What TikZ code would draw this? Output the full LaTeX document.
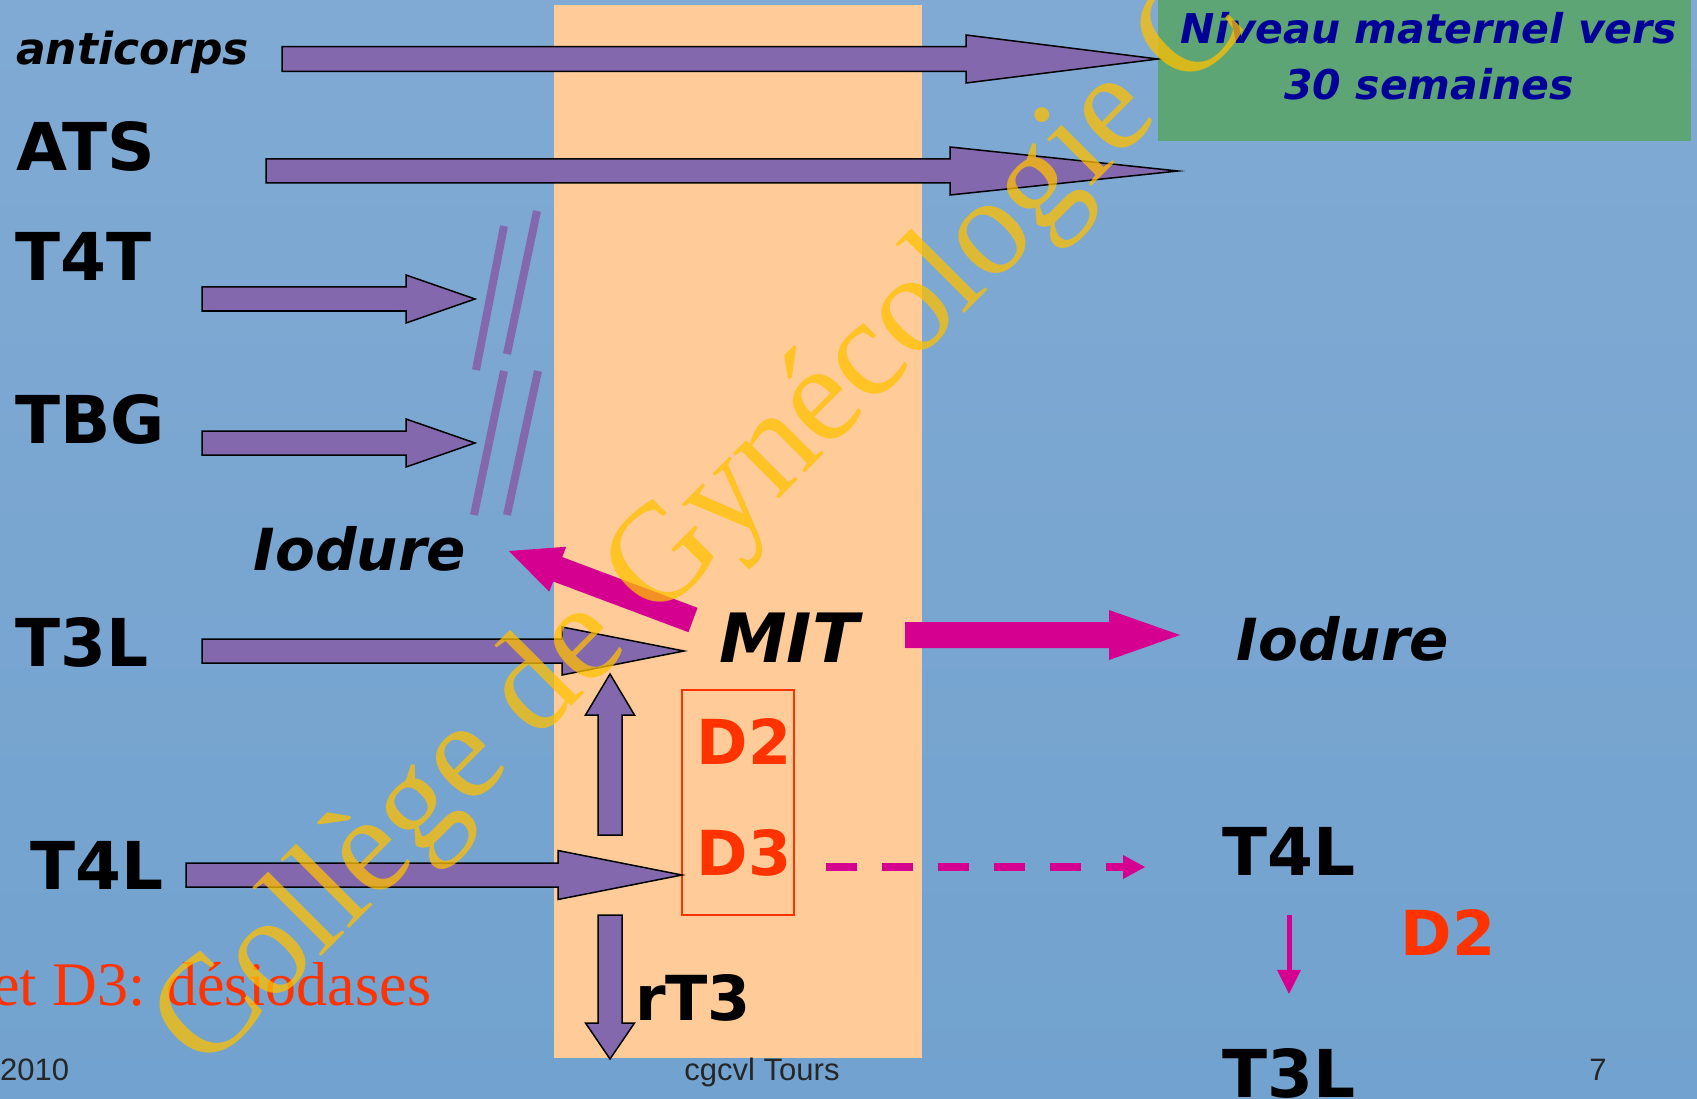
\documentclass[tikz,border=0pt]{standalone}
\usepackage{fontspec}
\usepackage{tikz}
\usetikzlibrary{
  arrows.meta,
  calc
}
\newfontfamily\comic{DejaVu Sans}[
  BoldFont={DejaVu Sans Bold},
  ItalicFont={DejaVu Sans Oblique},
  BoldItalicFont={DejaVu Sans Bold Oblique}]
\newfontfamily\serifwm{Liberation Serif}
\newfontfamily\footsans{Liberation Sans}
\definecolor{bgtop}   {HTML}{80AAD3}
\definecolor{bgmid}   {HTML}{9DC0DF}
\definecolor{bgbot}   {HTML}{72A2CF}
\definecolor{peach}   {HTML}{FFCC99}
\definecolor{grn}     {HTML}{5EA576}
\definecolor{purp}    {HTML}{8468AE}
\definecolor{mag}     {HTML}{D5008F}
\definecolor{navy}    {HTML}{000099}
\definecolor{redo}    {HTML}{FF3300}
\definecolor{wmyel}   {HTML}{FFC000}
\definecolor{footgray}{HTML}{262626}

% block arrow: [style] from, to, shaft half width, head half width, head length
\newcommand{\fatarrow}[6][]{%
  \coordinate (neck) at ($(#3)!#6!(#2)$);
  \filldraw[#1] ($(#2)!#4!90:(#3)$) -- ($(neck)!#4!-90:(#2)$)
    -- ($(neck)!#5!-90:(#2)$) -- (#3) -- ($(neck)!#5!90:(#2)$)
    -- ($(neck)!#4!90:(#2)$) -- ($(#2)!#4!-90:(#3)$) -- cycle;}

\begin{document}
\begin{tikzpicture}[x=1pt, y=1pt,
  every node/.style={inner sep=0pt},
  lbl/.style={font=\comic\bfseries\fontsize{66}{66}\selectfont, anchor=base west},
  lblc/.style={lbl, anchor=base},
  itl/.style={font=\comic\bfseries\itshape\fontsize{58}{58}\selectfont, anchor=base},
  enz/.style={font=\comic\bfseries\fontsize{62}{62}\selectfont, text=redo, anchor=base},
  niv/.style={font=\comic\bfseries\itshape\fontsize{41}{41}\selectfont, text=navy, anchor=base},
  foot/.style={font=\footsans\fontsize{31}{31}\selectfont, text=footgray, anchor=base},
  pbox/.style={fill=purp, draw=black, line width=1.5pt},
  mbox/.style={fill=mag, draw=none},
  bar/.style={draw=purp, line width=8pt},
  marr/.style={draw=mag, line width=5pt, -{Triangle[width=24pt, length=24pt, line width=0pt]}},
  dsh/.style={draw=mag, line width=8pt, dash pattern=on 31pt off 25pt,
              -{Triangle[width=24pt, length=22pt, line width=0pt]}},
]
\useasboundingbox (0,0) rectangle (1697,-1099);
\shade[top color=bgtop, middle color=bgmid, bottom color=bgbot] (0,0) rectangle (1697,-1099);
\fill[peach] (554,-5) rectangle (922,-1058);
\fill[grn] (1158,0) rectangle (1691,-141);

\node[niv] (niv1) at (1429,-44)  {Niveau maternel vers};
\node[niv] (niv2) at (1429,-100) {30 semaines};

\node[lbl, font=\comic\bfseries\itshape\fontsize{44}{44}\selectfont] (anti) at (16,-65) {anticorps};
\node[lbl] (ats) at (16,-171) {ATS};
\node[lbl] (t4t) at (15,-281) {T4T};
\node[lbl] (tbg) at (15,-443) {TBG};
\node[lbl] (t3l) at (15,-666) {T3L};
\node[lbl] (t4l) at (30,-889) {T4L};
\node[itl] (iodl) at (360,-570) {Iodure};
\node[itl, font=\comic\bfseries\itshape\fontsize{68}{68}\selectfont] (mit) at (789,-662) {MIT};
\node[itl] (iodr) at (1343,-660) {Iodure};
\node[lblc, font=\comic\bfseries\fontsize{62}{62}\selectfont] (rt3) at (693,-1020) {rT3};
\node[draw=redo, line width=1.5pt, minimum width=112pt, minimum height=225pt] (dbox) at (738,-802.5) {};
\node[enz] (d2) at (744,-764) {D2};
\node[enz] (d3) at (744,-875) {D3};
\node[lblc] (t4r) at (1289,-875)  {T4L};
\node[lblc] (t3r) at (1289,-1097) {T3L};
\node[enz] (d2r) at (1448,-955) {D2};

\coordinate (anti-a) at (282,-59);  \coordinate (anti-b) at (1158,-59);
\coordinate (ats-a)  at (266,-171); \coordinate (ats-b)  at (1178,-171);
\coordinate (t4t-a)  at (202,-299); \coordinate (t4t-b)  at (475,-299);
\coordinate (tbg-a)  at (202,-443); \coordinate (tbg-b)  at (475,-443);
\coordinate (t3l-a)  at (202,-651); \coordinate (t3l-b)  at (684,-651);
\coordinate (t4l-a)  at (186,-875); \coordinate (t4l-b)  at (682,-875);
\coordinate (up-a)   at (610,-835); \coordinate (up-b)   at (610,-674);
\coordinate (dn-a)   at (610,-915); \coordinate (dn-b)   at (610,-1059);
\coordinate (mit-a)  at (905,-635); \coordinate (mit-b)  at (1180,-635);
\coordinate (iod-a)  at (693,-620); \coordinate (iod-b)  at (509,-551);
\coordinate (dsh-a)  at (826,-867); \coordinate (dsh-b)  at (1145,-867);

\fatarrow[pbox]{anti-a}{anti-b}{12.3pt}{24pt}{192pt}
\fatarrow[pbox]{ats-a}{ats-b}{12pt}{24pt}{228pt}
\fatarrow[pbox]{t4t-a}{t4t-b}{12pt}{24pt}{69pt}
\fatarrow[pbox]{tbg-a}{tbg-b}{12pt}{24pt}{69pt}
\fatarrow[pbox]{t3l-a}{t3l-b}{12pt}{24pt}{122pt}
\fatarrow[pbox]{t4l-a}{t4l-b}{12pt}{24.5pt}{124pt}
\fatarrow[pbox]{up-a}{up-b}{12pt}{24.5pt}{41pt}
\fatarrow[pbox]{dn-a}{dn-b}{12pt}{24.5pt}{36pt}
\fatarrow[mbox]{mit-a}{mit-b}{13pt}{25pt}{71pt}
\fatarrow[mbox]{iod-a}{iod-b}{13pt}{24pt}{52pt}

\draw[bar] (476,-370) -- (504,-226);
\draw[bar] (507,-354) -- (537,-211);
\draw[bar] (474,-515) -- (504,-371);
\draw[bar] (507,-515) -- (538,-371);

\draw[dsh] (dsh-a) -- (dsh-b);
\draw[marr, shorten <=40pt, shorten >=54pt] (t4r) -- (t3r);

\node[font=\serifwm\fontsize{62}{62}\selectfont, text=redo, anchor=base west] (desio) at (-8,-1005) {et D3: désiodases};
\node[foot, anchor=base west] (year) at (0,-1080) {2010};
\node[foot] (site) at (762,-1080) {cgcvl Tours};
\node[foot] (page) at (1598,-1080) {7};

\node[font=\serifwm\fontsize{140}{140}\selectfont, text=wmyel, text opacity=0.75,
      rotate=45, anchor=base west] (wm) at (204,-1074) {Collège de Gynécologie C};
\end{tikzpicture}
\end{document}
